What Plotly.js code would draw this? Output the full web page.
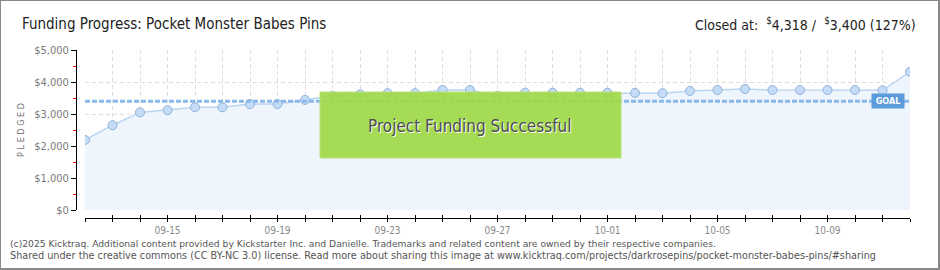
<!DOCTYPE html>
<html>
<head>
<meta charset="utf-8">
<script src="https://cdn.plot.ly/plotly-3.0.1.min.js"></script>
<style>
  html, body { margin: 0; padding: 0; background: #fff; }
  #wrap { position: relative; width: 940px; height: 270px; }
  #frame { position: absolute; left: 0; top: 0; width: 940px; height: 270px; box-sizing: border-box;
           border-left: 1px solid #8a8a8a; border-top: 1px solid #8a8a8a;
           border-right: 2px solid #8a8a8a; border-bottom: 2px solid #8a8a8a; pointer-events: none; }
  #chart { position: absolute; left: 0; top: 0; width: 940px; height: 270px; }
</style>
</head>
<body>
<div id="wrap"><div id="chart"></div><div id="frame"></div></div>
<script>
// ---- data ----
const dates = [
  '2025-09-12','2025-09-13','2025-09-14','2025-09-15','2025-09-16','2025-09-17','2025-09-18',
  '2025-09-19','2025-09-20','2025-09-21','2025-09-22','2025-09-23','2025-09-24','2025-09-25',
  '2025-09-26','2025-09-27','2025-09-28','2025-09-29','2025-09-30','2025-10-01','2025-10-02',
  '2025-10-03','2025-10-04','2025-10-05','2025-10-06','2025-10-07','2025-10-08','2025-10-09',
  '2025-10-10','2025-10-11','2025-10-12'
];
const pledged = [
  2190, 2650, 3050, 3120, 3210, 3210, 3310,
  3310, 3440, 3570, 3615, 3650, 3650, 3750,
  3750, 3570, 3665, 3665, 3665, 3665, 3660,
  3650, 3720, 3750, 3780, 3750, 3750, 3750,
  3750, 3740, 4318
];
const tickLabels = [
  ' ', ' ', ' ', '09-15', ' ', ' ', ' ',
  '09-19', ' ', ' ', ' ', '09-23', ' ', ' ',
  ' ', '09-27', ' ', ' ', ' ', '10-01', ' ',
  ' ', ' ', '10-05', ' ', ' ', ' ', '10-09',
  ' ', ' ', ' '
];
const goal = 3400;
const yTicks = [0, 1000, 2000, 3000, 4000, 5000];
const yTickLabels = ['$0', '$1,000', '$2,000', '$3,000', '$4,000', '$5,000'];
const titleText = 'Funding Progress: Pocket Monster Babes Pins';
const closedText = 'Closed at:  <sup>$</sup>4,318 /  <sup>$</sup>3,400 (127%)';
const bannerText = 'Project Funding Successful';
const footer1 = '(c)2025 Kicktraq. Additional content provided by Kickstarter Inc. and Danielle. Trademarks and related content are owned by their respective companies.';
const footer2 = 'Shared under the creative commons (CC BY-NC 3.0) license. Read more about sharing this image at www.kicktraq.com/projects/darkrosepins/pocket-monster-babes-pins/#sharing';

// ---- layout helpers (pixel -> paper) ----
const W = 940, H = 270;
const px = v => v / W;
const py = v => 1 - v / H;

const trace = {
  x: dates, y: pledged, type: 'scatter', mode: 'lines+markers',
  line: { color: '#bad5f2', width: 1.5 },
  marker: { size: 9, color: '#c4dcf7', line: { color: '#92b2d8', width: 1 } },
  fill: 'tozeroy', fillcolor: '#eef5fd',
  hoverinfo: 'skip', showlegend: false
};
const dummy = { x: [dates[0]], y: [0], xaxis: 'x2', yaxis: 'y', mode: 'markers',
  marker: { opacity: 0 }, hoverinfo: 'skip', showlegend: false };

const font = "'DejaVu Sans Condensed', 'Liberation Sans Narrow', 'DejaVu Sans', sans-serif";
const footFont = "'DejaVu Sans', Verdana, sans-serif";

const layout = {
  width: W, height: H,
  margin: { l: 0, r: 0, t: 0, b: 0 },
  paper_bgcolor: '#fff', plot_bgcolor: 'rgba(0,0,0,0)',
  showlegend: false,
  xaxis: {
    type: 'date', domain: [px(85), px(910)],
    range: [dates[0], dates[dates.length - 1]],
    anchor: 'free', position: py(218),
    tickmode: 'array', tickvals: dates, ticktext: tickLabels,
    ticks: 'outside', ticklen: 3, tickcolor: '#000', tickwidth: 1,
    showline: true, linecolor: '#000', linewidth: 1,
    showgrid: true, gridcolor: '#dedede', griddash: '4px,3px', gridwidth: 1,
    zeroline: false,
    tickfont: { family: font, size: 10, color: '#8a8a8a' },
    fixedrange: true
  },
  xaxis2: {
    type: 'date', overlaying: 'x', matches: 'x', anchor: 'free', position: py(218),
    tickmode: 'array', tickvals: dates, showticklabels: false,
    ticks: 'inside', ticklen: 3, tickcolor: '#000', tickwidth: 1,
    showgrid: false, showline: false, zeroline: false
  },
  yaxis: {
    domain: [py(210), py(50)], range: [0, 5000],
    anchor: 'free', position: px(76),
    tickmode: 'array', tickvals: yTicks, ticktext: yTickLabels,
    ticks: 'outside', ticklen: 5, tickcolor: '#000', tickwidth: 1,
    minor: { tickmode: 'linear', tick0: 500, dtick: 1000, ticks: 'outside', ticklen: 3, tickcolor: '#ff0000', showgrid: false },
    showline: true, linecolor: '#000', linewidth: 1,
    showgrid: true, gridcolor: '#dedede', griddash: '4px,3px', gridwidth: 1,
    zeroline: false,
    tickfont: { family: font, size: 11, color: '#7a7a7a' },
    title: { text: 'P L E D G E D', font: { family: font, size: 9, color: '#6f6f6f' }, standoff: 7 },
    fixedrange: true
  },
  shapes: [
    { type: 'line', xref: 'x', yref: 'y', x0: dates[0], x1: dates[dates.length - 1], y0: goal, y1: goal,
      line: { color: '#8bb8ea', width: 3, dash: '5px,2px' }, layer: 'above' },
    { type: 'rect', xref: 'paper', yref: 'paper', x0: px(320), x1: px(621), y0: py(158), y1: py(92),
      fillcolor: 'rgba(160,216,72,0.93)', line: { color: '#b9e27e', width: 1 }, layer: 'above' }
  ],
  annotations: [
    { xref: 'paper', yref: 'paper', x: px(20), y: py(24), xanchor: 'left', yanchor: 'middle',
      text: titleText, showarrow: false, font: { family: font, size: 15, color: '#222' } },
    { xref: 'paper', yref: 'paper', x: px(918), y: py(24), xanchor: 'right', yanchor: 'middle',
      text: closedText, showarrow: false, font: { family: font, size: 14, color: '#222' } },
    { xref: 'paper', yref: 'paper', x: px(471), y: py(127), xanchor: 'center', yanchor: 'middle',
      text: bannerText, showarrow: false, font: { family: font, size: 17, color: '#ffffff' } },
    { xref: 'paper', yref: 'paper', x: px(470), y: py(126), xanchor: 'center', yanchor: 'middle',
      text: bannerText, showarrow: false, font: { family: font, size: 17, color: '#4e4e4e' } },
    { xref: 'paper', yref: 'paper', x: px(887.5), y: py(101), xanchor: 'center', yanchor: 'middle',
      text: '<b>GOAL</b>', showarrow: false, bgcolor: '#5b9bdb', borderpad: 2,
      width: 28, height: 10,
      font: { family: font, size: 9, color: '#ffffff' } },
    { xref: 'paper', yref: 'paper', x: px(8), y: py(243), xanchor: 'left', yanchor: 'middle',
      text: footer1, showarrow: false, font: { family: footFont, size: 9.2, color: '#555' } },
    { xref: 'paper', yref: 'paper', x: px(8), y: py(255), xanchor: 'left', yanchor: 'middle',
      text: footer2, showarrow: false, font: { family: footFont, size: 9.7, color: '#555' } }
  ]
};

Plotly.newPlot('chart', [trace, dummy], layout, { displayModeBar: false, staticPlot: true });
</script>
</body>
</html>
